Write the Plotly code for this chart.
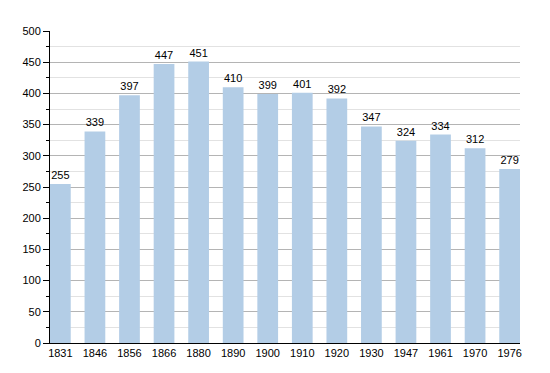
import plotly.graph_objects as go

years = ["1831", "1846", "1856", "1866", "1880", "1890", "1900", "1910", "1920", "1930", "1947", "1961", "1970", "1976"]
population = [255, 339, 397, 447, 451, 410, 399, 401, 392, 347, 324, 334, 312, 279]

fig = go.Figure(go.Bar(
    x=years, y=population,
    marker=dict(color="#b3cde6", line=dict(width=0)),
    width=0.6,
    text=[str(v) for v in population],
    textposition="outside",
    textfont=dict(family="Liberation Sans, Arial, sans-serif", size=11, color="#000"),
    cliponaxis=False,
))

fig.update_layout(
    width=550, height=373,
    margin=dict(l=50, r=30, t=31, b=30),
    paper_bgcolor="white", plot_bgcolor="white",
    font=dict(family="Liberation Sans, Arial, sans-serif", size=11, color="#000"),
    showlegend=False,
    bargap=0.4,
)
fig.update_xaxes(
    type="category", range=[-0.3, 13.3],
    showline=True, linecolor="#000", linewidth=1,
    ticks="", showgrid=False, tickfont=dict(size=11),
)
fig.update_yaxes(
    range=[0, 500], tick0=0, dtick=50,
    showline=True, linecolor="#000", linewidth=1,
    ticks="outside", ticklen=6, tickcolor="#000", tickwidth=1,
    showgrid=True, gridcolor="#b4b4b4", gridwidth=1,
    minor=dict(dtick=25, ticks="outside", ticklen=3, tickcolor="#000", showgrid=True, gridcolor="#e2e2e2", gridwidth=1),
    zeroline=False, tickfont=dict(size=11),
)

fig.write_html("out.html")
